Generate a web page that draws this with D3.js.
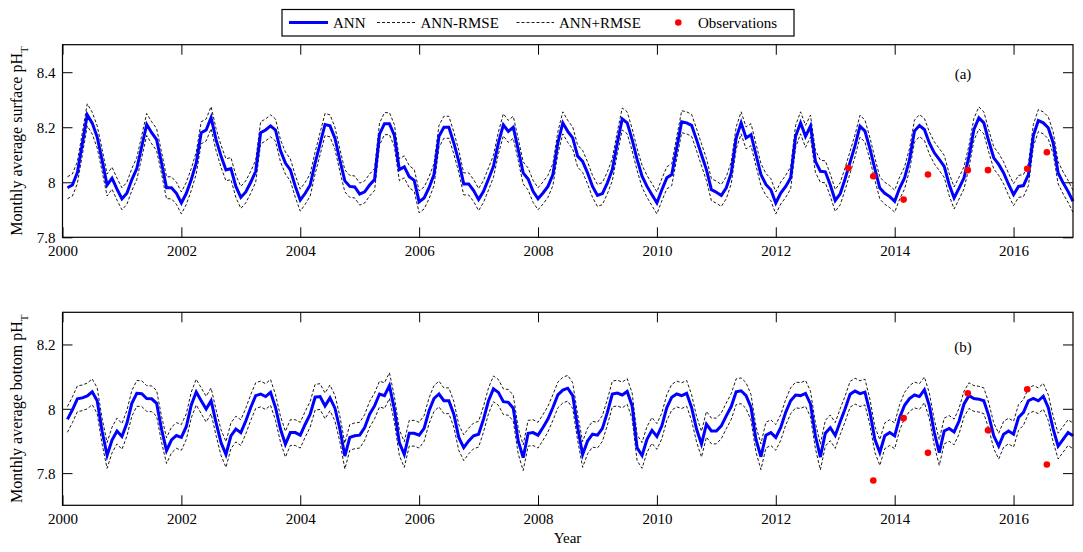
<!DOCTYPE html>
<html><head><meta charset="utf-8">
<script src="https://cdn.jsdelivr.net/npm/d3@7"></script>
<style>
body{margin:0;background:#fff;}
text{font-family:"Liberation Serif","Times New Roman",serif;fill:#000;}
</style></head>
<body><svg id="c" width="1083" height="552"></svg>
<script>
// ---------- data ----------
const startYear = 2000;
const xTicks = [2000,2002,2004,2006,2008,2010,2012,2014,2016];
const yTicksSurface = [7.8,8,8.2,8.4];
const yTicksBottom = [7.8,8,8.2];
const legendLabels = ["ANN","ANN-RMSE","ANN+RMSE","Observations"];
const panelLabels = ["(a)","(b)"];

// monthly ANN surface pH (Jan 2000 .. Dec 2016)
const annSurface = [
7.98,7.99,8.035,8.14,8.245,8.215,8.165,8.08,7.99,8.015,7.975,7.94,
7.96,8.01,8.05,8.13,8.21,8.18,8.155,8.07,7.98,7.98,7.96,7.925,
7.96,8.01,8.07,8.18,8.19,8.235,8.155,8.095,8.045,8.05,7.985,7.945,
7.965,8.0,8.04,8.18,8.19,8.205,8.19,8.115,8.07,8.045,7.985,7.935,
7.96,7.99,8.07,8.14,8.21,8.205,8.16,8.08,8.005,7.985,7.983,7.957,
7.965,7.99,8.01,8.175,8.213,8.213,8.17,8.046,8.056,8.02,8.007,7.929,
7.943,7.98,8.028,8.167,8.2,8.2,8.143,8.076,7.994,7.994,7.97,7.937,
7.967,8.012,8.058,8.143,8.209,8.185,8.2,8.119,8.034,8.012,7.967,7.94,
7.961,7.985,8.028,8.143,8.216,8.185,8.161,8.095,8.076,8.034,7.985,7.952,
7.959,7.998,8.046,8.143,8.23,8.216,8.155,8.083,8.022,7.985,7.955,7.925,
7.973,8.016,8.028,8.125,8.22,8.216,8.207,8.155,8.1,8.046,7.973,7.964,
7.952,7.98,8.034,8.161,8.216,8.161,8.173,8.1,8.028,7.992,7.973,7.925,
7.961,7.985,8.016,8.167,8.216,8.167,8.204,8.076,8.04,8.038,7.99,7.934,
7.958,8.013,8.073,8.133,8.204,8.186,8.122,8.049,7.979,7.96,7.948,7.931,
7.979,8.016,8.083,8.186,8.206,8.192,8.143,8.107,8.083,8.058,7.992,7.943,
7.979,8.016,8.094,8.192,8.234,8.216,8.149,8.089,8.065,8.034,7.992,7.955,
7.985,7.988,8.028,8.17,8.224,8.216,8.198,8.143,8.034,7.998,7.967,7.931];

// monthly ANN bottom pH
const annBottom = [
7.967,7.997,8.031,8.034,8.04,8.053,8.025,7.93,7.855,7.903,7.931,7.914,
7.955,8.017,8.048,8.047,8.032,8.031,8.017,7.936,7.87,7.903,7.917,7.911,
7.945,8.012,8.052,8.025,7.999,8.025,7.957,7.895,7.858,7.916,7.937,7.926,
7.962,8.004,8.041,8.046,8.038,8.051,8.004,7.937,7.89,7.926,7.926,7.918,
7.952,7.983,8.036,8.038,8.009,8.034,8.002,7.937,7.853,7.911,7.916,7.918,
7.942,7.983,8.009,8.046,8.041,8.072,7.999,7.895,7.858,7.924,7.924,7.918,
7.939,7.994,8.032,8.046,8.025,8.025,7.983,7.911,7.879,7.9,7.916,7.921,
7.968,8.025,8.062,8.051,8.022,8.02,8.002,7.9,7.848,7.924,7.926,7.918,
7.942,7.968,8.004,8.043,8.058,8.064,8.041,7.942,7.858,7.9,7.921,7.918,
7.939,7.989,8.046,8.049,8.043,8.054,8.009,7.879,7.855,7.905,7.933,7.914,
7.947,8.004,8.036,8.046,8.041,8.048,8.004,7.937,7.89,7.952,7.931,7.931,
7.947,7.978,8.007,8.053,8.056,8.041,8.004,7.905,7.851,7.918,7.926,7.911,
7.942,7.989,8.025,8.043,8.041,8.048,8.015,7.916,7.85,7.924,7.941,7.917,
7.96,8.0,8.045,8.055,8.047,8.052,7.99,7.905,7.864,7.916,7.926,7.916,
7.973,8.011,8.032,8.043,8.038,8.059,8.009,7.926,7.864,7.931,7.939,7.928,
7.962,8.015,8.041,8.032,8.03,8.025,7.978,7.916,7.884,7.921,7.931,7.921,
7.973,7.989,8.025,8.032,8.025,8.039,8.004,7.937,7.884,7.905,7.926,7.916];

const rmseSurface = 0.04;
const rmseBottom = 0.04;

const obsSurfaceTime = [2013.22,2013.64,2014.15,2014.56,2015.23,2015.57,2016.23,2016.56];
const obsSurfaceValue = [8.052,8.022,7.937,8.028,8.044,8.044,8.049,8.109];
const obsBottomTime = [2013.64,2014.15,2014.56,2015.23,2015.57,2016.23,2016.56];
const obsBottomValue = [7.777,7.971,7.863,8.048,7.933,8.061,7.827];

// ---------- drawing ----------
const svg = d3.select("#c");
svg.append("rect").attr("width",1083).attr("height",552).attr("fill","#fff");

const left = 62.5, right = 1073;
const x = d3.scaleLinear().domain([2000,2017]).range([left,right]);
const monthTime = i => startYear + (i+1)/12;

function panel(cfg){
  const y = d3.scaleLinear().domain(cfg.domain).range([cfg.bottom,cfg.top]);
  const g = svg.append("g");
  const fmt = d => String(d);

  const ax = g.append("g").attr("transform",`translate(0,${cfg.bottom})`)
    .call(d3.axisBottom(x).tickValues(xTicks).tickSize(-10).tickSizeOuter(0).tickPadding(8).tickFormat(d3.format("d")));
  const axT = g.append("g").attr("transform",`translate(0,${cfg.top})`)
    .call(d3.axisTop(x).tickValues(xTicks).tickSize(-10).tickSizeOuter(0).tickFormat(""));
  const ayL = g.append("g").attr("transform",`translate(${left},0)`)
    .call(d3.axisLeft(y).tickValues(cfg.yTicks).tickSize(-10).tickSizeOuter(0).tickPadding(7).tickFormat(fmt));
  const ayR = g.append("g").attr("transform",`translate(${right},0)`)
    .call(d3.axisRight(y).tickValues(cfg.yTicks).tickSize(-10).tickSizeOuter(0).tickFormat(""));
  [ax,axT,ayL,ayR].forEach(a=>{
    a.select(".domain").remove();
    a.selectAll("line").attr("stroke","#000").attr("stroke-width",1);
    a.selectAll("text").style("font-family","Liberation Serif").style("font-size","15px").attr("fill","#000");
  });
  ayL.selectAll("text").attr("dy","0.35em");

  const series = cfg.values.map((v,i)=>({t:monthTime(i),v}));
  const line = d3.line().x(d=>x(d.t)).y(d=>y(d.v));
  const lineLo = d3.line().x(d=>x(d.t)).y(d=>y(d.v-cfg.rmse));
  const lineHi = d3.line().x(d=>x(d.t)).y(d=>y(d.v+cfg.rmse));

  g.append("path").datum(series).attr("d",lineLo).attr("fill","none")
    .attr("stroke","#000").attr("stroke-width",0.9).attr("stroke-dasharray","3,2");
  g.append("path").datum(series).attr("d",lineHi).attr("fill","none")
    .attr("stroke","#000").attr("stroke-width",0.9).attr("stroke-dasharray","3,2");
  g.append("path").datum(series).attr("d",line).attr("fill","none")
    .attr("stroke","#0000ff").attr("stroke-width",3).attr("stroke-linejoin","miter");

  g.selectAll("circle.obs").data(cfg.obsT.map((t,i)=>({t,v:cfg.obsV[i]})))
    .enter().append("circle").attr("class","obs")
    .attr("cx",d=>x(d.t)).attr("cy",d=>y(d.v)).attr("r",3.3).attr("fill","#ff0000");

  g.append("rect").attr("x",left).attr("y",cfg.top).attr("width",right-left).attr("height",cfg.bottom-cfg.top)
    .attr("fill","none").attr("stroke","#000").attr("stroke-width",1.2);

  g.append("text").attr("x",963).attr("y",cfg.labelY).attr("text-anchor","middle")
    .attr("dy","0.35em").style("font-size","15px").text(cfg.label);

  const yl = g.append("text").attr("transform",`translate(22,${(cfg.top+cfg.bottom)/2}) rotate(-90)`)
    .attr("text-anchor","middle").style("font-size","16px");
  yl.append("tspan").text(cfg.ylabel);
  yl.append("tspan").attr("baseline-shift","sub").style("font-size","11px").text("T");
}

panel({domain:[7.8,8.5], top:44.7, bottom:237.3, yTicks:yTicksSurface, values:annSurface, rmse:rmseSurface,
  obsT:obsSurfaceTime, obsV:obsSurfaceValue, label:panelLabels[0], labelY:74, ylabel:"Monthly average surface pH"});
panel({domain:[7.7,8.3], top:312.3, bottom:505.3, yTicks:yTicksBottom, values:annBottom, rmse:rmseBottom,
  obsT:obsBottomTime, obsV:obsBottomValue, label:panelLabels[1], labelY:347, ylabel:"Monthly average bottom pH"});

svg.append("text").attr("x",567.5).attr("y",538).attr("dy","0.35em").attr("text-anchor","middle")
  .style("font-size","15px").text("Year");

// legend
const lg = svg.append("g");
lg.append("rect").attr("x",282).attr("y",9.5).attr("width",512).attr("height",26.5)
  .attr("fill","#fff").attr("stroke","#000").attr("stroke-width",1.2);
const ly = 22.5;
const items = [
  {x1:289,x2:328,tx:333,type:"ann"},
  {x1:377,x2:415,tx:420.5,type:"dash"},
  {x1:516.5,x2:554,tx:559,type:"dash"},
  {cx:678.3,tx:698,type:"obs"}];
items.forEach((it,i)=>{
  if(it.type==="ann") lg.append("line").attr("x1",it.x1).attr("x2",it.x2).attr("y1",ly).attr("y2",ly)
    .attr("stroke","#0000ff").attr("stroke-width",3);
  else if(it.type==="dash") lg.append("line").attr("x1",it.x1).attr("x2",it.x2).attr("y1",ly).attr("y2",ly)
    .attr("stroke","#000").attr("stroke-width",0.9).attr("stroke-dasharray","3,2");
  else lg.append("circle").attr("cx",it.cx).attr("cy",ly).attr("r",3.3).attr("fill","#ff0000");
  lg.append("text").attr("x",it.tx).attr("y",ly).attr("dy","0.35em").style("font-size","15px").text(legendLabels[i]);
});
</script></body></html>
